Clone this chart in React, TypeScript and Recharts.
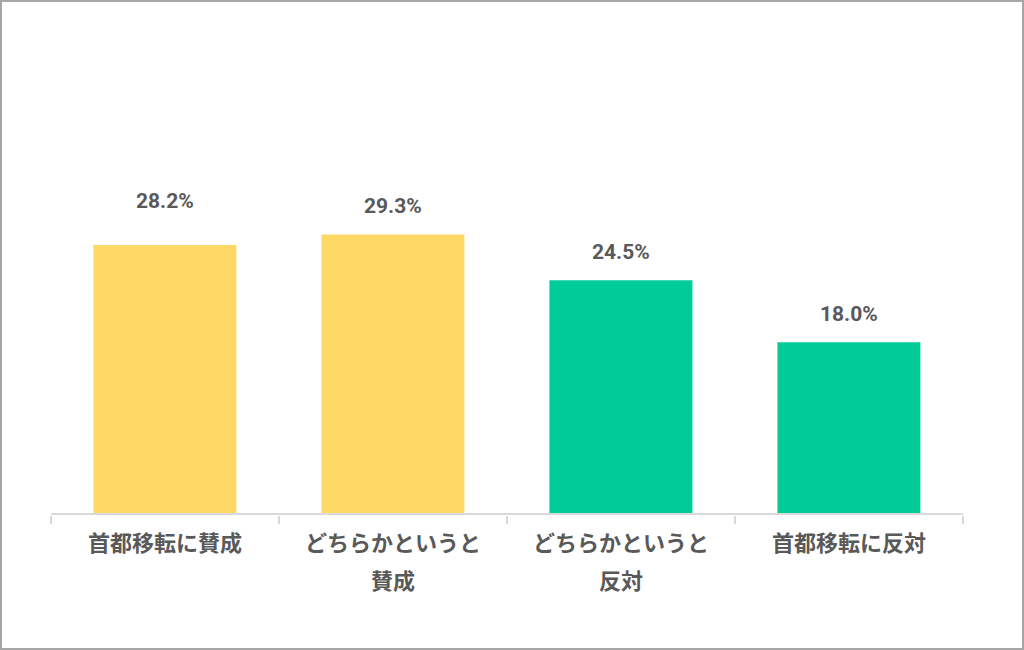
import { BarChart, Bar, XAxis, YAxis, Cell, LabelList } from 'recharts';

const categories = ['首都移転に賛成', 'どちらかというと\n賛成', 'どちらかというと\n反対', '首都移転に反対'];
const values = [28.2, 29.3, 24.5, 18.0];
const barColors = ['#FFD966', '#FFD966', '#00CC99', '#00CC99'];
// the first label sits a little higher in the original
const labelGaps = [44, 28, 28, 28];

const data = categories.map((name, i) => ({ name, value: values[i] }));

const textColor = '#595959';
const gridColor = '#D9D9D9';
const fontFamily = '"Noto Sans CJK JP", "Noto Sans", sans-serif';

// category label split on line break, plus tick marks on the band edges
function CategoryTick(props: any) {
  const { x, y, payload, index, visibleTicksCount } = props;
  const half = payload.offset ?? 0;
  const lines = String(payload.value).split('\n');
  const isLast = index === visibleTicksCount - 1;
  return (
    <g transform={`translate(${x},${y})`}>
      <line x1={-half} x2={-half} y1={0} y2={8} stroke={gridColor} strokeWidth={2} />
      {isLast && <line x1={half} x2={half} y1={0} y2={8} stroke={gridColor} strokeWidth={2} />}
      {lines.map((line, i) => (
        <text
          key={i}
          x={0}
          y={35 + i * 38}
          textAnchor="middle"
          fill={textColor}
          fontSize={22}
          fontWeight={700}
          fontFamily={fontFamily}
        >
          {line}
        </text>
      ))}
    </g>
  );
}

function ValueLabel(props: any) {
  const { x, y, width, value, index } = props;
  return (
    <text
      x={x + width / 2}
      y={y - labelGaps[index]}
      textAnchor="middle"
      dominantBaseline="central"
      fill={textColor}
      fontSize={21}
      fontWeight={700}
      fontFamily="Roboto, Arial, sans-serif"
    >
      {`${Number(value).toFixed(1)}%`}
    </text>
  );
}

export default function App() {
  return (
    <div
      style={{
        position: 'absolute',
        left: 0,
        top: 0,
        width: 1024,
        height: 650,
        border: '2px solid #A6A6A6',
        boxSizing: 'border-box',
        background: '#fff',
      }}
    >
      <div style={{ position: 'absolute', left: -2, top: -2 }}>
        <BarChart
          width={1024}
          height={650}
          data={data}
          margin={{ top: 37, right: 61, bottom: 135, left: 51 }}
          barCategoryGap="18.6%"
        >
          <XAxis
            dataKey="name"
            axisLine={{ stroke: gridColor, strokeWidth: 2 }}
            tickLine={false}
            tickSize={0}
            tick={<CategoryTick />}
            interval={0}
            height={1}
          />
          <YAxis hide domain={[0, 50]} />
          <Bar dataKey="value" isAnimationActive={false}>
            {data.map((d, i) => (
              <Cell key={d.name} fill={barColors[i]} />
            ))}
            <LabelList dataKey="value" content={<ValueLabel />} />
          </Bar>
        </BarChart>
      </div>
    </div>
  );
}
